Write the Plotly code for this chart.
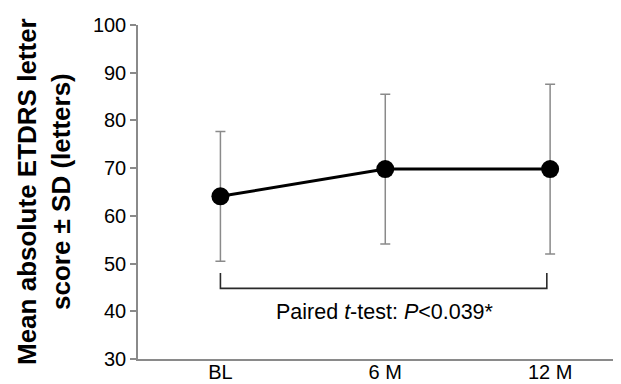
import plotly.graph_objects as go

categories = ["BL", "6 M", "12 M"]
means = [64.1, 69.8, 69.8]
sds = [13.6, 15.7, 17.8]
y_ticks = [30, 40, 50, 60, 70, 80, 90, 100]
bracket_y = [48.0, 44.8, 44.8, 48.0]
bracket_x = [0, 0, 1.98, 1.98]

FONT = "Liberation Sans, Arial, sans-serif"
x_idx = list(range(len(categories)))

fig = go.Figure()
fig.add_trace(go.Scatter(
    x=bracket_x, y=bracket_y, mode="lines",
    line=dict(color="#2a2a2a", width=1.6), hoverinfo="skip", showlegend=False))
fig.add_trace(go.Scatter(
    x=x_idx, y=means, mode="lines+markers",
    line=dict(color="black", width=3),
    marker=dict(color="black", size=18),
    error_y=dict(type="data", array=sds, visible=True, color="#8a8a8a",
                 thickness=1.5, width=5),
    showlegend=False))

fig.add_annotation(
    x=1, y=39.9, xref="x", yref="y",
    text="Paired <i>t</i>-test: <i>P</i>&lt;0.039*",
    showarrow=False, font=dict(family=FONT, size=21.5, color="black"),
    xanchor="center", yanchor="middle")

fig.add_annotation(
    x=0, y=0.5, xref="paper", yref="paper", xshift=-94,
    text="<b>Mean absolute ETDRS letter<br>score ± SD (letters)</b>",
    textangle=-90, showarrow=False,
    font=dict(family=FONT, size=26, color="black"),
    xanchor="center", yanchor="middle")

fig.update_layout(
    width=613, height=376,
    margin=dict(l=130, r=0, t=17, b=25),
    paper_bgcolor="white", plot_bgcolor="white",
    font=dict(family=FONT, color="black"),
    xaxis=dict(
        range=[-0.5, 2.43], tickvals=x_idx, ticktext=categories,
        showgrid=False, zeroline=False, showline=True, linecolor="#8a8a8a",
        linewidth=1.5, ticks="", tickfont=dict(size=20, color="black"),
        ticklabelstandoff=-6, automargin=False),
    yaxis=dict(
        range=[30, 100], tickvals=y_ticks,
        showgrid=False, zeroline=False, showline=True, linecolor="#8a8a8a",
        linewidth=1.5, ticks="outside", ticklen=6, tickcolor="#8a8a8a",
        tickwidth=1.5, tickfont=dict(size=20, color="black"),
        automargin=False),
)

fig.write_html("out.html")
